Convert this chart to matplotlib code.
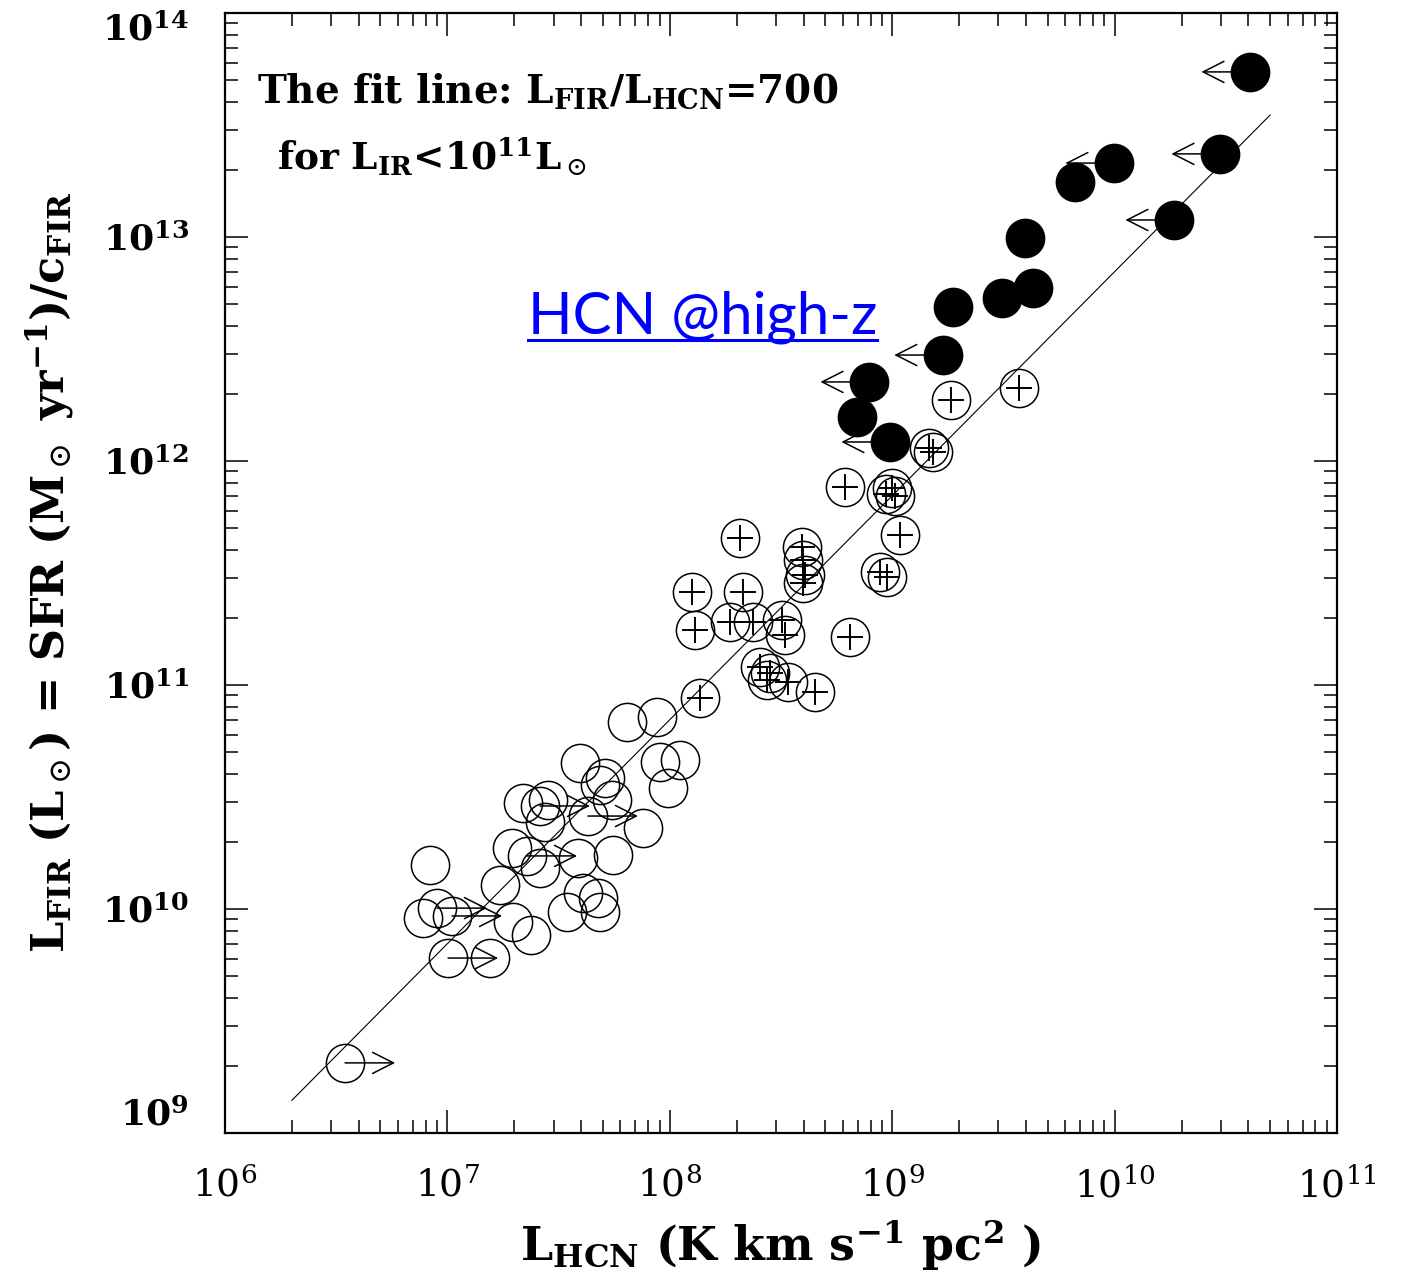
import numpy as np
import matplotlib
matplotlib.use("Agg")
import matplotlib.pyplot as plt
from matplotlib.ticker import LogLocator, NullFormatter
from matplotlib.lines import Line2D

plt.rcParams['font.family'] = ['DejaVu Serif']
plt.rcParams['mathtext.fontset'] = 'dejavuserif'

# log10(L_HCN), log10(L_FIR) for each sample
# normal galaxies, open circles
open_lx = [6.922, 6.890, 7.192, 7.237, 7.290, 7.295, 7.376, 7.416, 7.439, 7.452,
           7.340, 7.538, 7.587, 7.596, 7.610, 7.677, 7.686, 7.709, 7.740, 7.745,
           7.879, 7.808, 7.942, 7.956, 8.046, 7.992, 7.686]
open_ly = [10.196, 9.960, 9.781, 10.107, 10.272, 9.942, 9.884, 10.183, 10.388, 10.487,
           10.473, 9.987, 10.228, 10.652, 10.071, 10.049, 9.987, 10.585, 10.487, 10.241,
           10.362, 10.835, 10.857, 10.656, 10.665, 10.540, 10.554]

# open circles that are lower limits in L_HCN
lim_lx = [6.540, 6.953, 7.021, 7.003, 7.358, 7.416, 7.632]
lim_ly = [9.313, 10.004, 9.969, 9.781, 10.237, 10.460, 10.415]

# LIRGs / ULIRGs, circled plus
lirg_lx = [9.570, 9.264, 9.165, 9.183, 8.788, 8.972, 8.999, 9.013, 9.035, 8.945,
           8.977, 8.810, 8.316, 8.594, 8.599, 8.608, 8.599, 8.100, 8.329, 8.113,
           8.271, 8.374, 8.504, 8.518, 8.406, 8.451, 8.437, 8.531, 8.653, 8.136]
lirg_ly = [12.326, 12.272, 12.058, 12.040, 11.884, 11.853, 11.879, 11.844, 11.670, 11.504,
           11.482, 11.214, 11.656, 11.616, 11.558, 11.491, 11.455, 11.415, 11.415, 11.246,
           11.281, 11.281, 11.290, 11.223, 11.080, 11.054, 11.022, 11.013, 10.969, 10.942]

# high-z sources, filled circles; upper limit flag for L_HCN
hz_lx = [10.609, 10.474, 10.267, 9.997, 9.822, 9.597, 9.633, 9.494, 9.273, 9.228,
         8.896, 8.842, 8.990]
hz_ly = [13.737, 13.371, 13.076, 13.330, 13.246, 12.996, 12.772, 12.728, 12.688, 12.473,
         12.353, 12.196, 12.085]
hz_upper = [True, True, True, True, False, False, False, False, False, True,
            True, False, True]

fit_ratio = 700
fit_x = [2e6, 5e10]

x_ticks = [1e6, 1e7, 1e8, 1e9, 1e10, 1e11]
x_tick_labels = [r'$\mathregular{10^{6}}$', r'$\mathregular{10^{7}}$', r'$\mathregular{10^{8}}$',
                 r'$\mathregular{10^{9}}$', r'$\mathregular{10^{10}}$', r'$\mathregular{10^{11}}$']
y_ticks = [1e9, 1e10, 1e11, 1e12, 1e13, 1e14]
y_tick_labels = [r'$\mathregular{10^{9}}$', r'$\mathregular{10^{10}}$', r'$\mathregular{10^{11}}$',
                 r'$\mathregular{10^{12}}$', r'$\mathregular{10^{13}}$', r'$\mathregular{10^{14}}$']

W, H = 1408, 1276
fig = plt.figure(figsize=(W / 100, H / 100), dpi=100)
ax = fig.add_axes([225 / W, 1 - 1133 / H, (1337 - 225) / W, (1133 - 13) / H])
ax.set_xscale('log')
ax.set_yscale('log')
ax.set_xlim(1e6, 1e11)
ax.set_ylim(1e9, 1e14)

ms = 27.5
mew = 1.1
head = '<-,head_length=0.75,head_width=0.38'

# fit line
fx = np.array(fit_x)
ax.plot(fx, fit_ratio * fx, color='black', lw=0.8, zorder=1)

ox = 10 ** np.array(open_lx)
oy = 10 ** np.array(open_ly)
ax.plot(ox, oy, 'o', ms=ms, mfc='none', mec='black', mew=mew, zorder=2)

lx = 10 ** np.array(lim_lx)
ly = 10 ** np.array(lim_ly)
ax.plot(lx, ly, 'o', ms=ms, mfc='none', mec='black', mew=mew, zorder=2)
for x, y in zip(lx, ly):
    ax.annotate('', xy=(x, y), xytext=(36, 0), textcoords='offset points',
                arrowprops=dict(arrowstyle=head, mutation_scale=20, lw=1.1,
                                color='black', shrinkA=0, shrinkB=0), zorder=2)

px = 10 ** np.array(lirg_lx)
py = 10 ** np.array(lirg_ly)
ax.plot(px, py, 'o', ms=ms, mfc='none', mec='black', mew=mew, zorder=3)
ax.plot(px, py, '+', ms=19, mec='black', mew=1.4, zorder=3)

hx = 10 ** np.array(hz_lx)
hy = 10 ** np.array(hz_ly)
for x, y, up in zip(hx, hy, hz_upper):
    if up:
        ax.annotate('', xy=(x, y), xytext=(-35, 0), textcoords='offset points',
                    arrowprops=dict(arrowstyle=head, mutation_scale=20, lw=1.1,
                                    color='black', shrinkA=0, shrinkB=0), zorder=3)
ax.plot(hx, hy, 'o', ms=ms, mfc='black', mec='black', mew=mew, zorder=4)

# axes frame and ticks
for s in ax.spines.values():
    s.set_linewidth(1.6)
ax.xaxis.set_minor_locator(LogLocator(base=10, subs=range(2, 10), numticks=50))
ax.yaxis.set_minor_locator(LogLocator(base=10, subs=range(2, 10), numticks=50))
ax.xaxis.set_minor_formatter(NullFormatter())
ax.yaxis.set_minor_formatter(NullFormatter())
ax.set_xticks(x_ticks)
ax.set_xticklabels(x_tick_labels, fontsize=27)
ax.set_yticks(y_ticks)
ax.set_yticklabels(y_tick_labels, fontsize=26, fontweight='bold')
ax.tick_params(which='both', direction='in', top=True, right=True, width=1.1)
ax.tick_params(which='major', length=16.5)
ax.tick_params(which='minor', length=9.5)
ax.tick_params(axis='x', which='major', pad=25)
ax.tick_params(axis='y', which='major', pad=26)
ylabs = ax.get_yticklabels()
ylabs[0].set_verticalalignment('bottom')
ylabs[-1].set_verticalalignment('top')

# labels
fig.text(50 / W, 1 - 572 / H,
         r'L$_{\mathregular{FIR}}$ (L$_\odot$) = SFR (M$_\odot$ yr$^{\mathregular{-1}}$)/c$_{\mathregular{FIR}}$',
         rotation=90, ha='center', va='center', fontsize=32, fontweight='bold')
fig.text(780 / W, 1 - 1245 / H,
         r'L$_{\mathregular{HCN}}$ (K km s$^{\mathregular{-1}}$ pc$^{\mathregular{2}}$ )',
         ha='center', va='center', fontsize=33, fontweight='bold')

fig.text(257 / W, 1 - 103 / H,
         r'The fit line: L$_{\mathregular{FIR}}$/L$_{\mathregular{HCN}}$=700',
         ha='left', va='baseline', fontsize=28, fontweight='bold')
fig.text(277 / W, 1 - 170 / H,
         r'for L$_{\mathregular{IR}}$<10$^{\mathregular{11}}$L$_\odot$',
         ha='left', va='baseline', fontsize=27, fontweight='bold')

# blue underlined tag
tag = fig.text(528 / W, 1 - 333 / H, 'HCN @high-z', ha='left', va='baseline',
               fontsize=42, color='#0000ff', family='Lato')
fig.canvas.draw()
bb = tag.get_window_extent(fig.canvas.get_renderer())
uy = (H - 340) / H
fig.add_artist(Line2D([bb.x0 / W, bb.x1 / W], [uy, uy], color='#0000ff', lw=2.2,
                      transform=fig.transFigure))

fig.savefig('out.png', dpi=100)
